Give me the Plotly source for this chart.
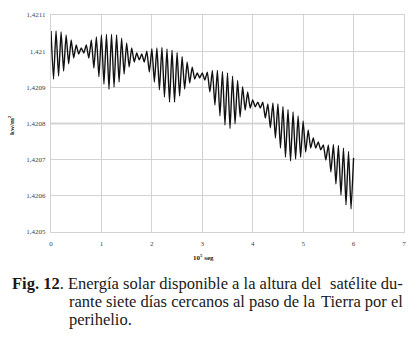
import plotly.graph_objects as go

# time axis (10^5 s), one point per half oscillation (peaks / troughs)
t = [0.00, 0.05, 0.10, 0.15, 0.20, 0.25, 0.30, 0.35, 0.40, 0.45,
     0.50, 0.55, 0.60, 0.65, 0.70, 0.75, 0.80, 0.85, 0.90, 0.95,
     1.00, 1.05, 1.10, 1.15, 1.20, 1.25, 1.30, 1.35, 1.40, 1.45,
     1.50, 1.55, 1.60, 1.65, 1.70, 1.75, 1.80, 1.85, 1.90, 1.95,
     2.00, 2.05, 2.10, 2.15, 2.20, 2.25, 2.30, 2.35, 2.40, 2.45,
     2.50, 2.55, 2.60, 2.65, 2.70, 2.75, 2.80, 2.85, 2.90, 2.95,
     3.00, 3.05, 3.10, 3.15, 3.20, 3.25, 3.30, 3.35, 3.40, 3.45,
     3.50, 3.55, 3.60, 3.65, 3.70, 3.75, 3.80, 3.85, 3.90, 3.95,
     4.00, 4.05, 4.10, 4.15, 4.20, 4.25, 4.30, 4.35, 4.40, 4.45,
     4.50, 4.55, 4.60, 4.65, 4.70, 4.75, 4.80, 4.85, 4.90, 4.95,
     5.00, 5.05, 5.10, 5.15, 5.20, 5.25, 5.30, 5.35, 5.40, 5.45,
     5.50, 5.55, 5.60, 5.65, 5.70, 5.75, 5.80, 5.85, 5.90, 5.95,
     6.00]

# solar energy (kW/m^2)
energia = [1.421056, 1.420923, 1.421056, 1.420931, 1.421053, 1.420945, 1.421045, 1.420965, 1.421031, 1.420981,
           1.421017, 1.420992, 1.421009, 1.420995, 1.421017, 1.420981, 1.421031, 1.420953, 1.421039, 1.420929,
           1.421045, 1.420909, 1.421047, 1.420895, 1.421047, 1.420901, 1.421045, 1.420915, 1.421036, 1.420937,
           1.421023, 1.420956, 1.421009, 1.420970, 1.420995, 1.420976, 1.420992, 1.420970, 1.421000, 1.420942,
           1.421007, 1.420915, 1.421009, 1.420893, 1.421010, 1.420873, 1.421006, 1.420859, 1.421003, 1.420859,
           1.420996, 1.420876, 1.420985, 1.420895, 1.420970, 1.420912, 1.420956, 1.420923, 1.420940, 1.420926,
           1.420940, 1.420920, 1.420942, 1.420887, 1.420947, 1.420851, 1.420947, 1.420821, 1.420944, 1.420796,
           1.420940, 1.420786, 1.420931, 1.420799, 1.420919, 1.420818, 1.420902, 1.420837, 1.420887, 1.420843,
           1.420865, 1.420846, 1.420859, 1.420843, 1.420859, 1.420815, 1.420854, 1.420788, 1.420857, 1.420760,
           1.420854, 1.420732, 1.420847, 1.420707, 1.420839, 1.420696, 1.420832, 1.420702, 1.420821, 1.420707,
           1.420807, 1.420721, 1.420782, 1.420732, 1.420760, 1.420732, 1.420749, 1.420727, 1.420741, 1.420699,
           1.420741, 1.420666, 1.420742, 1.420633, 1.420739, 1.420602, 1.420732, 1.420575, 1.420723, 1.420564,
           1.420705]

x_ticks = [0, 1, 2, 3, 4, 5, 6, 7]
y_ticks = [1.4205, 1.4206, 1.4207, 1.4208, 1.4209, 1.4210, 1.4211]
y_tick_labels = ["1,4205", "1,4206", "1,4207", "1,4208", "1,4209", "1,421", "1,4211"]
emphasis_level = 1.4208

# caption, split so each justified line fills the column
caption_left = ["<b>Fig. 12</b>. Energía solar disponible a la altura del",
                "rante siete días cercanos al paso de la",
                "perihelio."]
caption_right = ["satélite du-",
                 "Tierra por el",
                 ""]

W, H = 411, 343
L, R, T, B = 51, 7, 15, 111
pw, ph = W - L - R, H - T - B

SERIF = "Liberation Serif"


def px_x(px):
    return (px - L) / pw


def px_y(py):
    return (H - B - py) / ph


fig = go.Figure()
fig.add_trace(go.Scatter(x=t, y=energia, mode="lines",
                         line=dict(color="#111111", width=1.4, shape="spline", smoothing=0.5),
                         hoverinfo="skip", showlegend=False))

fig.add_shape(type="line", xref="x", yref="y", x0=x_ticks[0], x1=x_ticks[-1],
              y0=emphasis_level, y1=emphasis_level,
              line=dict(color="#b4b4b4", width=1.6), layer="below")

grid = "#d2d2d2"
tickfont = dict(family=SERIF, size=7, color="#444444")
fig.update_xaxes(range=[0, 7], tickvals=x_ticks, showgrid=True, gridcolor=grid, gridwidth=1,
                 zeroline=False, showline=True, linecolor=grid, mirror=True,
                 tickfont=tickfont, ticks="", ticklabelstandoff=5, automargin=False)
fig.update_yaxes(range=[1.4205, 1.4211], tickvals=y_ticks, ticktext=y_tick_labels,
                 showgrid=True, gridcolor=grid, gridwidth=1, zeroline=False,
                 showline=True, linecolor=grid, mirror=True,
                 tickfont=tickfont, ticks="", ticklabelstandoff=3, automargin=False)

ann = []
ann.append(dict(text="<b>kw/m<sup>2</sup></b>", x=px_x(11), y=px_y(125), xref="paper", yref="paper",
                textangle=-90, showarrow=False, font=dict(family=SERIF, size=7, color="#222222"),
                xanchor="center", yanchor="middle"))
ann.append(dict(text="<b>10<sup>5</sup> seg</b>", x=px_x(203), y=px_y(257), xref="paper", yref="paper",
                showarrow=False, font=dict(family=SERIF, size=7, color="#222222"),
                xanchor="center", yanchor="middle"))
cap_font = dict(family=SERIF, size=16.5, color="#1a1a1a")
line_x = [10, 67, 67]
line_y = [283, 301, 319]
for lt, rt, px0, py0 in zip(caption_left, caption_right, line_x, line_y):
    ann.append(dict(text=lt, x=px_x(px0), y=px_y(py0), xref="paper", yref="paper",
                    showarrow=False, font=cap_font, xanchor="left", yanchor="middle"))
    if rt:
        ann.append(dict(text=rt, x=px_x(405), y=px_y(py0), xref="paper", yref="paper",
                        showarrow=False, font=cap_font, xanchor="right", yanchor="middle"))

fig.update_layout(width=W, height=H, margin=dict(l=L, r=R, t=T, b=B, autoexpand=False),
                  paper_bgcolor="white", plot_bgcolor="white", annotations=ann,
                  showlegend=False)

fig.write_html("out.html", config={"displayModeBar": False},
               post_script="document.body.style.margin='0';document.body.style.padding='0';")
